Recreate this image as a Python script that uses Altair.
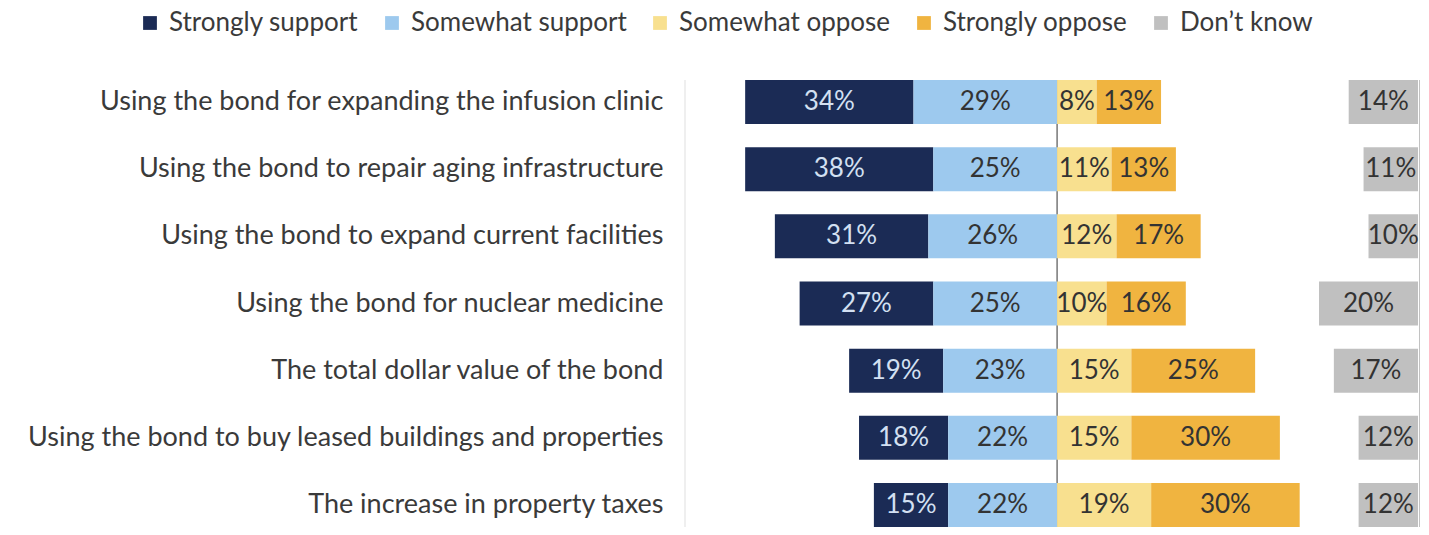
import altair as alt
import pandas as pd

items = [
    "Using the bond for expanding the infusion clinic",
    "Using the bond to repair aging infrastructure",
    "Using the bond to expand current facilities",
    "Using the bond for nuclear medicine",
    "The total dollar value of the bond",
    "Using the bond to buy leased buildings and properties",
    "The increase in property taxes",
]
strongly_support = [34, 38, 31, 27, 19, 18, 15]
somewhat_support = [29, 25, 26, 25, 23, 22, 22]
somewhat_oppose = [8, 11, 12, 10, 15, 15, 19]
strongly_oppose = [13, 13, 17, 16, 25, 30, 30]
dont_know = [14, 11, 10, 20, 17, 12, 12]

cats = ["Strongly support", "Somewhat support", "Somewhat oppose", "Strongly oppose", "Don\u2019t know"]
colors = ["#1b2b55", "#9dc9ee", "#f8e08f", "#f0b440", "#c0c0c0"]

X_MIN, X_MAX = -75.15, 73.3
DK_END = 72.9
rows = []
for i, it in enumerate(items):
    ss, sw, so, st, dk = (strongly_support[i], somewhat_support[i], somewhat_oppose[i],
                          strongly_oppose[i], dont_know[i])
    segs = [
        (cats[0], -(ss + sw), -sw, ss),
        (cats[1], -sw, 0, sw),
        (cats[2], 0, so, so),
        (cats[3], so, so + st, st),
        (cats[4], DK_END - dk, DK_END, dk),
    ]
    for c, a, b, v in segs:
        rows.append({"item": it, "cat": c, "xa": a, "xb": b, "mid": (a + b) / 2,
                     "lab": f"{v}%"})
df = pd.DataFrame(rows)
df_light = df[df["cat"] == cats[0]]
df_dark = df[df["cat"] != cats[0]]

W, H = 735, 447
FONT = "Lato"

xs = alt.Scale(domain=[X_MIN, X_MAX], nice=False, zero=False)
ys = alt.Scale(domain=items, paddingInner=0.345, paddingOuter=0)
hidden_x = alt.Axis(labels=False, ticks=False, domain=False, grid=False, title="")

bars = alt.Chart(df).mark_bar().encode(
    y=alt.Y("item:N", scale=ys,
            axis=alt.Axis(title="", ticks=False, domain=False, grid=False, labelFontSize=27,
                          labelFont=FONT, labelColor="#3a3a3a", labelPadding=22,
                          labelLimit=1000)),
    x=alt.X("xa:Q", scale=xs, axis=hidden_x),
    x2=alt.X2("xb"),
    color=alt.Color("cat:N", scale=alt.Scale(domain=cats, range=colors),
                    legend=alt.Legend(title="", orient="none", direction="horizontal",
                                      legendX=-548, legendY=-70, symbolType="square",
                                      symbolSize=190, labelFontSize=26, labelFont=FONT,
                                      labelColor="#3a3a3a", labelOffset=6,
                                      labelLimit=400, columnPadding=20, titlePadding=0)),
)

t_light = alt.Chart(df_light).mark_text(fontSize=26, font=FONT, color="#d3e0f2").encode(
    y=alt.Y("item:N"), x=alt.X("mid:Q"), text=alt.Text("lab:N"),
)
t_dark = alt.Chart(df_dark).mark_text(fontSize=26, font=FONT, color="#333333").encode(
    y=alt.Y("item:N"), x=alt.X("mid:Q"), text=alt.Text("lab:N"),
)

def vrule(xv, col):
    return alt.Chart(pd.DataFrame({"rx": [xv]})).mark_rule(strokeWidth=1.2, color=col).encode(
        x=alt.X("rx:Q"),
    )

chart = alt.layer(
    vrule(X_MIN, "#e4e4e4"), vrule(0, "#555555"), vrule(X_MAX, "#999999"),
    bars, t_light, t_dark,
).properties(
    width=W, height=H,
    autosize=alt.AutoSizeParams(type="none"),
    padding={"left": 677, "top": 72, "right": 0, "bottom": 0},
).configure_view(strokeWidth=0)

chart.save("out.html", embed_options={"renderer": "svg", "actions": False})
